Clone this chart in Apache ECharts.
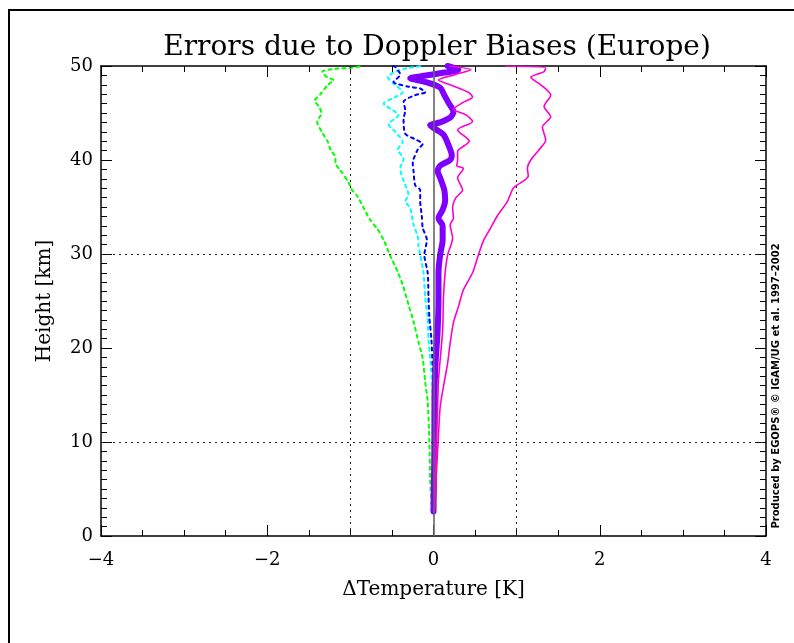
<!DOCTYPE html>
<html>
<head>
<meta charset="utf-8">
<script src="https://cdn.jsdelivr.net/npm/echarts@6/dist/echarts.min.js"></script>
<style>html,body{margin:0;padding:0;background:#fff}#c{width:794px;height:643px}</style>
</head>
<body>
<div id="c"></div>
<script>
// ---- data (height in km, temperature error in K) ----
const greenH = [2.6, 6, 10.2, 14.3, 16.4, 18.9, 20.6, 22.8, 24.6, 26.7, 28.1, 29.8, 31.5, 32.6, 33.6, 34.9, 36.2, 36.8, 37.6, 38.9, 39.7, 40.3, 41.1, 41.9, 42.8, 44.1, 44.9, 45.6, 46.3, 47.0, 48.0, 48.5, 48.8, 49.4, 49.7, 49.8, 50];
const greenT = [-0.02, -0.04, -0.05, -0.07, -0.10, -0.13, -0.18, -0.24, -0.30, -0.37, -0.43, -0.52, -0.60, -0.67, -0.76, -0.84, -0.92, -0.98, -1.02, -1.12, -1.18, -1.18, -1.24, -1.27, -1.33, -1.40, -1.35, -1.37, -1.43, -1.36, -1.27, -1.20, -1.28, -1.34, -1.18, -0.98, -0.86];

const cyanH = [2.6, 8, 13.7, 15.9, 18.4, 20.9, 23.3, 25.4, 28.0, 29.9, 30.9, 31.9, 33.1, 34.9, 35.6, 36.3, 37.8, 39.1, 40.1, 41.1, 41.9, 43.0, 43.8, 44.8, 45.3, 46.0, 46.7, 47.2, 48.2, 48.8, 49.4, 49.8, 50];
const cyanT = [0, -0.005, -0.01, -0.015, -0.035, -0.06, -0.07, -0.10, -0.12, -0.16, -0.18, -0.19, -0.24, -0.28, -0.34, -0.30, -0.36, -0.40, -0.36, -0.43, -0.37, -0.46, -0.54, -0.42, -0.49, -0.60, -0.46, -0.37, -0.49, -0.55, -0.46, -0.30, -0.12];

const blueH = [2.6, 10, 15.9, 18.4, 20.9, 23.3, 25.4, 28.0, 29.9, 31.5, 32.8, 34.0, 35.6, 36.8, 37.3, 38.8, 39.7, 40.1, 41.1, 41.7, 42.2, 42.8, 44.3, 45.3, 46.2, 46.9, 47.2, 47.6, 47.8, 48.3, 49.1, 49.9, 50];
const blueT = [0, 0, 0, -0.012, -0.025, -0.05, -0.06, -0.07, -0.11, -0.08, -0.13, -0.14, -0.16, -0.16, -0.22, -0.24, -0.25, -0.24, -0.19, -0.13, -0.22, -0.34, -0.36, -0.34, -0.36, -0.22, -0.10, -0.16, -0.30, -0.48, -0.40, -0.46, -0.48];

const purpleH = [2.6, 9.1, 14.8, 18.4, 21.9, 25.4, 28.0, 29.9, 31.5, 33.0, 33.8, 34.7, 35.7, 36.8, 38.1, 38.8, 39.4, 40.0, 40.5, 41.6, 42.7, 43.3, 43.7, 44.0, 44.5, 45.1, 46.1, 46.9, 47.7, 48.3, 48.7, 48.9, 49.3, 49.6, 50];
const purpleT = [0, 0.01, 0.012, 0.025, 0.05, 0.06, 0.06, 0.08, 0.11, 0.11, 0.06, 0.11, 0.14, 0.13, 0.08, 0.05, 0.08, 0.20, 0.22, 0.18, 0.12, 0.02, -0.04, 0.08, 0.20, 0.24, 0.18, 0.13, 0.08, -0.10, -0.28, -0.16, 0.14, 0.30, 0.17];

const pinkInH = [2.6, 9.1, 13.7, 16.6, 21.9, 25.4, 28.0, 29.9, 31.7, 33.1, 33.8, 34.9, 36.0, 36.8, 38.1, 39.1, 39.4, 40.0, 40.9, 42.0, 43.2, 44.1, 44.8, 45.4, 46.1, 46.7, 47.2, 48.0, 48.5, 48.8, 49.3, 49.6, 50];
const pinkInT = [0.01, 0.03, 0.05, 0.06, 0.11, 0.12, 0.14, 0.17, 0.23, 0.20, 0.24, 0.23, 0.27, 0.35, 0.29, 0.36, 0.28, 0.29, 0.29, 0.43, 0.29, 0.47, 0.39, 0.24, 0.35, 0.47, 0.42, 0.20, 0.06, 0.14, 0.35, 0.45, 0.20];

const pinkOutH = [2.6, 6.0, 9.1, 13.7, 15.9, 18.4, 20.5, 22.7, 24.4, 26.2, 28.0, 29.9, 31.4, 32.8, 34.1, 35.6, 37.0, 38.3, 39.1, 40.0, 41.1, 42.1, 43.5, 44.6, 45.7, 46.9, 48.0, 48.8, 49.4, 49.8, 50];
const pinkOutT = [0.01, 0.03, 0.05, 0.08, 0.12, 0.17, 0.20, 0.24, 0.30, 0.36, 0.47, 0.54, 0.60, 0.69, 0.77, 0.89, 0.96, 1.14, 1.13, 1.17, 1.27, 1.35, 1.31, 1.41, 1.33, 1.41, 1.29, 1.17, 1.33, 1.35, 0.87];

const gridX = [-1, 1];
const gridY = [10, 30];
const zeroX = [0];

const titleText = 'Errors due to Doppler Biases (Europe)';
const xName = '\u0394Temperature [K]';
const yName = 'Height [km]';
const creditText = 'Produced by EGOPS\u00AE \u00A9 IGAM/UG et al. 1997\u20132002';

// ---- chart ----
const pairs = (T, H) => T.map((t, i) => [t, H[i]]);
const serif = 'DejaVu Serif';
const minus = v => String(v).replace('-', '\u2212');

function lineSeries(T, H, color, width, dashed) {
  return {
    type: 'line', data: pairs(T, H), showSymbol: false, smooth: 0.25,
    xAxisIndex: 0, yAxisIndex: 0, z: 3,
    lineStyle: { color: color, width: width, type: dashed ? [3, 4] : 'solid', cap: 'round', join: 'round' }
  };
}

function makeAxis(pos, mn, mx, iv, minorSplit, labels, name, gap) {
  const a = {
    type: 'value', min: mn, max: mx, interval: iv, position: pos,
    axisLine: { show: true, onZero: false, lineStyle: { color: '#000', width: 1.5 } },
    axisTick: { show: true, inside: true, length: 11, lineStyle: { color: '#000' } },
    minorTick: { show: true, splitNumber: minorSplit, length: 6, lineStyle: { color: '#000' } },
    splitLine: { show: false },
    axisLabel: labels
      ? { show: true, formatter: minus, fontFamily: serif, fontSize: 18, color: '#000', margin: pos === 'bottom' ? 15 : 8 }
      : { show: false }
  };
  if (name) {
    a.name = name; a.nameLocation = 'middle'; a.nameGap = gap;
    a.nameTextStyle = { fontFamily: serif, fontSize: 20, color: '#000' };
  }
  return a;
}

const chart = echarts.init(document.getElementById('c'), null, { renderer: 'canvas' });
chart.setOption({
  animation: false,
  backgroundColor: '#fff',
  title: {
    text: titleText, left: 432, top: 29, textAlign: 'center',
    textStyle: { fontFamily: serif, fontSize: 28, fontWeight: 'normal', color: '#000' }
  },
  grid: { left: 101, right: 28, top: 66, bottom: 107 },
  xAxis: [
    makeAxis('bottom', -4, 4, 2, 4, true, xName, 44),
    makeAxis('top', -4, 4, 2, 4, false)
  ],
  yAxis: [
    makeAxis('left', 0, 50, 10, 10, true, yName, 46),
    makeAxis('right', 0, 50, 10, 10, false)
  ],
  series: [
    {
      type: 'line', data: [], xAxisIndex: 0, yAxisIndex: 0, z: 1,
      markLine: {
        silent: true, symbol: 'none', label: { show: false }, animation: false,
        lineStyle: { type: [2, 4], color: '#222', width: 1 },
        data: gridX.map(v => ({ xAxis: v })).concat(gridY.map(v => ({ yAxis: v })))
          .concat(zeroX.map(v => ({ xAxis: v, lineStyle: { type: 'solid', color: '#666', width: 1.6 } })))
      }
    },
    lineSeries(greenT, greenH, '#00ff00', 2, true),
    lineSeries(cyanT, cyanH, '#00ffff', 2, true),
    lineSeries(blueT, blueH, '#0000ff', 2, true),
    lineSeries(purpleT, purpleH, '#8000ff', 6, false),
    lineSeries(pinkInT, pinkInH, '#ff00cc', 1.6, false),
    lineSeries(pinkOutT, pinkOutH, '#ff00cc', 1.6, false)
  ],
  graphic: [
    { type: 'rect', shape: { x: 9, y: 10, width: 820, height: 700 }, style: { fill: 'none', stroke: '#000', lineWidth: 2 }, silent: true },
    { type: 'text', x: 776, y: 386, rotation: Math.PI / 2,
      style: { text: creditText, font: 'bold 10px "DejaVu Sans"', fill: '#000', textAlign: 'center', textVerticalAlign: 'middle' } }
  ]
});
</script>
</body>
</html>
